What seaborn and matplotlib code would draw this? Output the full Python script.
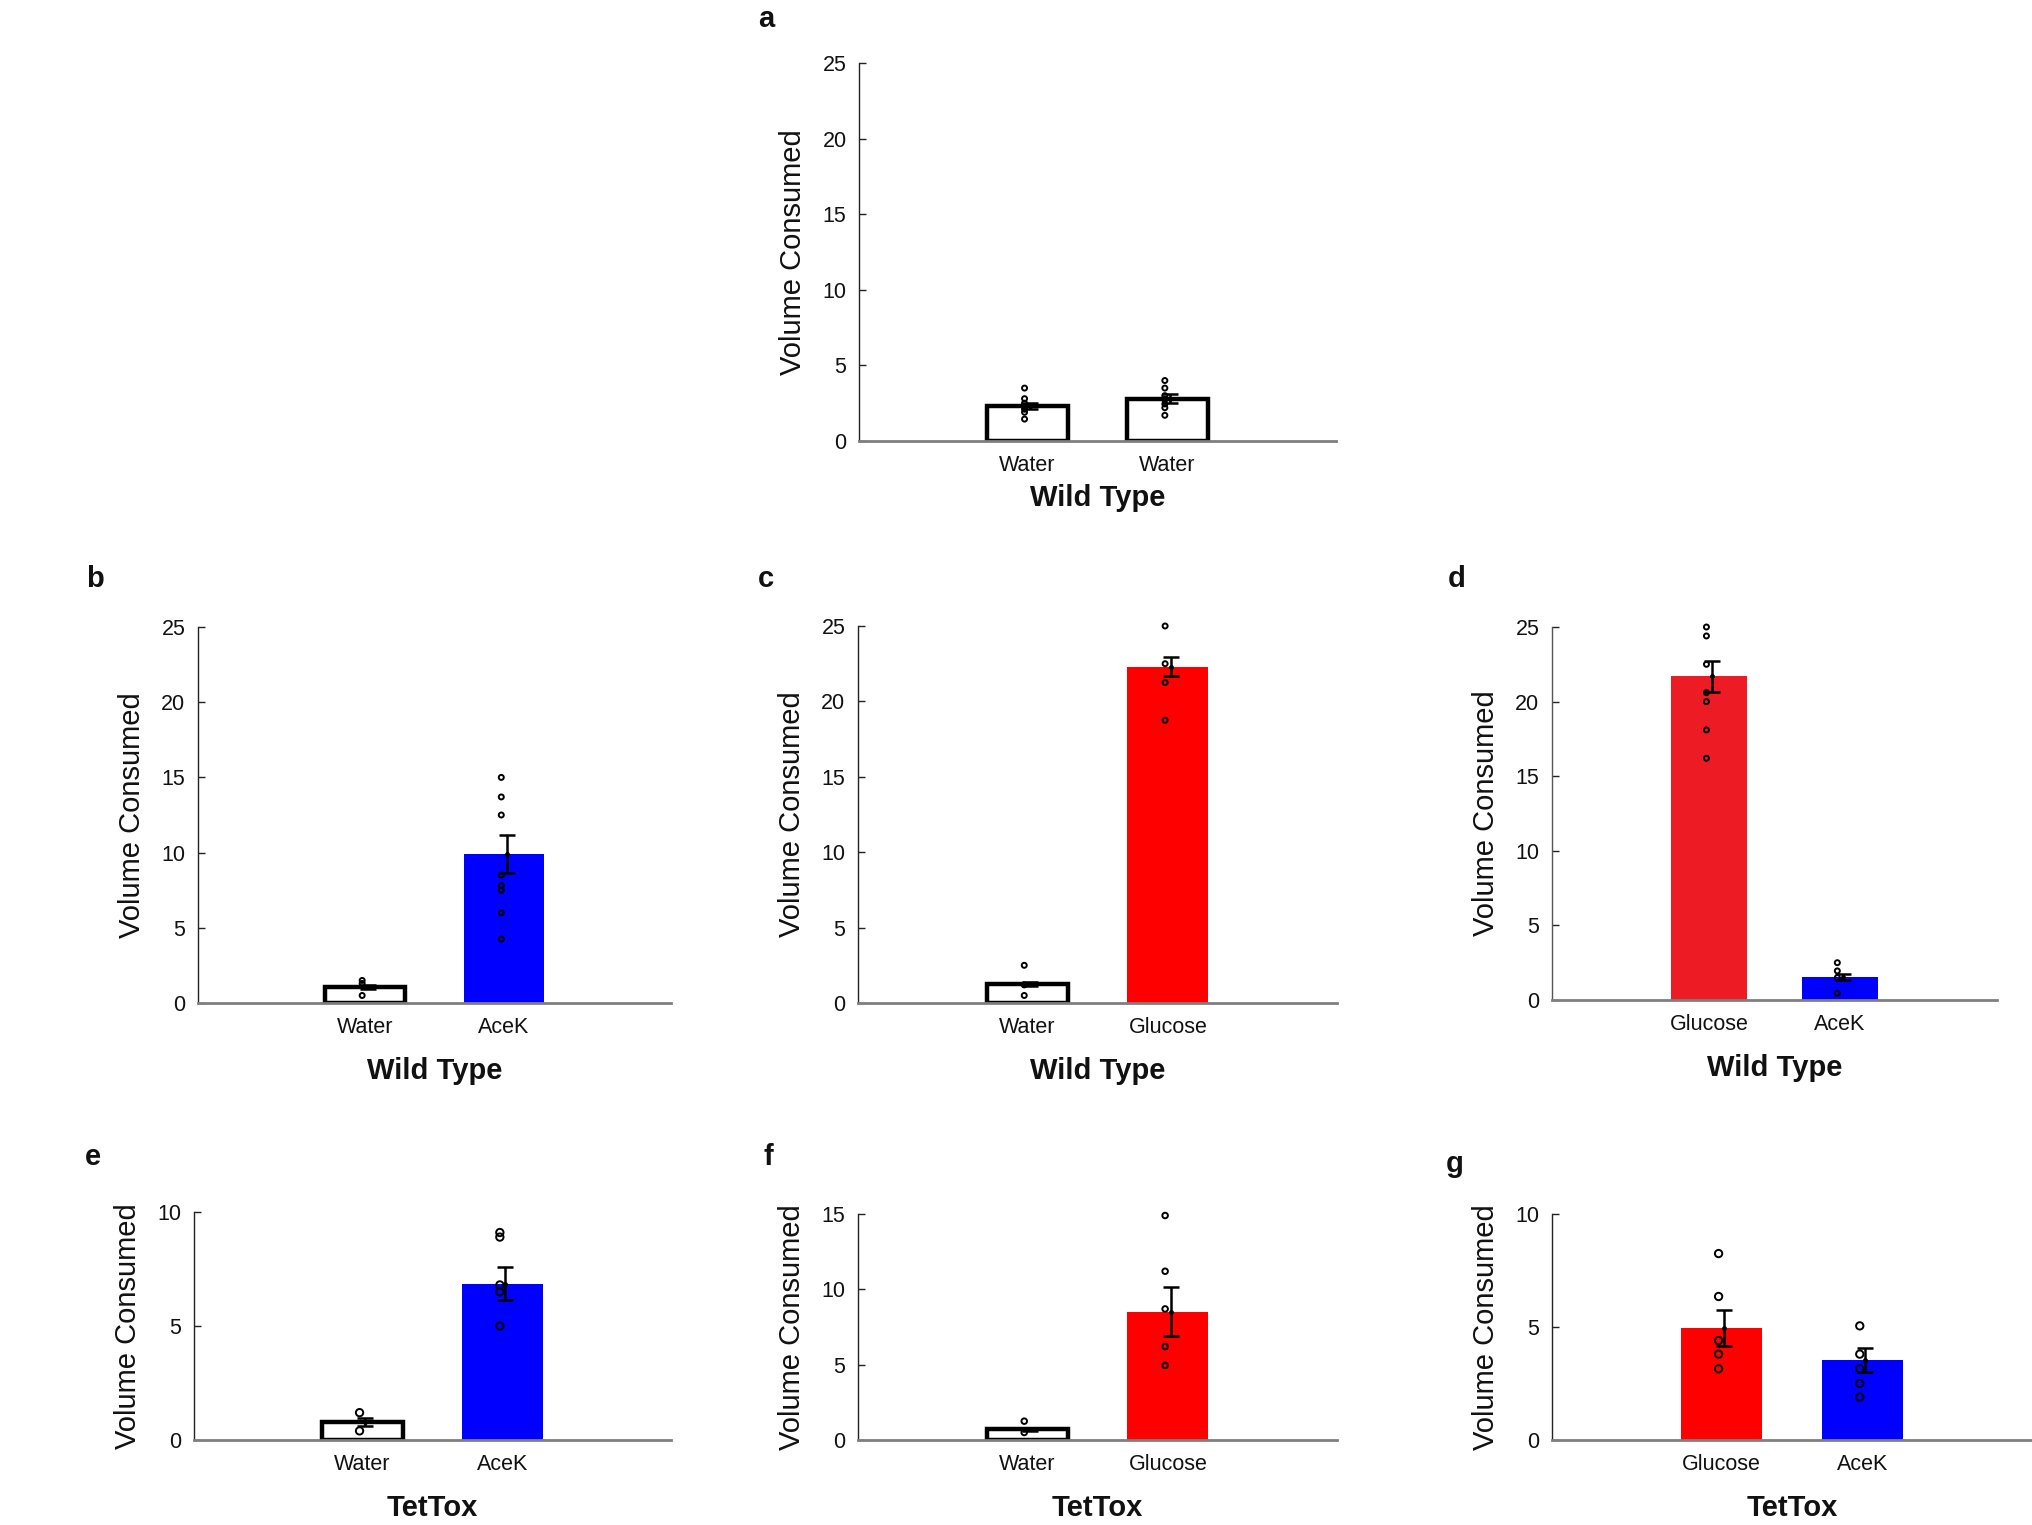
import numpy as np
import pandas as pd
import matplotlib
matplotlib.use("Agg")
import matplotlib.pyplot as plt
import seaborn as sns

# ---------------- data ----------------
a_labels = ["Water", "Water"]
a_means = [2.3, 2.8]
a_sems = [0.2, 0.28]
a_points = [[3.5, 2.8, 2.5, 2.3, 2.1, 1.9, 1.45], [4.0, 3.5, 3.0, 2.75, 2.45, 2.2, 1.7]]

b_labels = ["Water", "AceK"]
b_means = [1.05, 9.9]
b_sems = [0.15, 1.28]
b_points = [[1.5, 1.3, 0.5], [15.0, 13.7, 12.5, 8.5, 7.8, 7.5, 6.0, 4.25]]

c_labels = ["Water", "Glucose"]
c_means = [1.26, 22.3]
c_sems = [0.1, 0.64]
c_points = [[2.5, 1.2, 0.5], [25.0, 22.5, 21.25, 18.75]]

d_labels = ["Glucose", "AceK"]
d_means = [21.7, 1.55]
d_sems = [1.05, 0.2]
d_points = [[25.0, 24.4, 22.5, 20.6, 20.0, 18.1, 16.2], [2.5, 1.95, 1.5, 0.45]]

e_labels = ["Water", "AceK"]
e_means = [0.8, 6.85]
e_sems = [0.17, 0.73]
e_points = [[1.2, 0.4], [9.1, 8.9, 6.8, 6.5, 5.0]]

f_labels = ["Water", "Glucose"]
f_means = [0.7, 8.5]
f_sems = [0.1, 1.63]
f_points = [[1.25, 0.5], [14.9, 11.2, 8.7, 6.2, 4.95]]

g_labels = ["Glucose", "AceK"]
g_means = [4.95, 3.55]
g_sems = [0.8, 0.53]
g_points = [[8.25, 6.35, 4.4, 3.8, 3.15], [5.05, 3.8, 3.15, 2.5, 1.9]]

group_names = ["Wild Type", "Wild Type", "Wild Type", "Wild Type", "TetTox", "TetTox", "TetTox"]
y_ticks = [[0, 5, 10, 15, 20, 25]] * 4 + [[0, 5, 10], [0, 5, 10, 15], [0, 5, 10]]

WATER = "#FFFFFF"
BLUE = "#0000FF"
RED = "#FF0000"
RED_D = "#ED1C24"

# ---------------- style ----------------
sns.set_style("white")
plt.rcParams["font.family"] = ["Liberation Sans", "DejaVu Sans"]

W, H = 2032, 1525
fig = plt.figure(figsize=(W / 100, H / 100), dpi=100)

def rect(l, r, t, b):
    return [l / W, 1 - b / H, (r - l) / W, (b - t) / H]

panels = [
    ("a", rect(859, 1336, 63, 441), a_labels, a_means, a_sems, a_points, [WATER, WATER], (766, 19), 13),
    ("b", rect(198, 671, 627, 1003), b_labels, b_means, b_sems, b_points, [WATER, BLUE], (95, 579), 13),
    ("c", rect(858, 1337, 626, 1003), c_labels, c_means, c_sems, c_points, [WATER, RED], (766, 579), 13),
    ("d", rect(1552, 1997, 627, 1000), d_labels, d_means, d_sems, d_points, [RED_D, BLUE], (1457, 579), 13),
    ("e", rect(194, 671, 1212, 1440), e_labels, e_means, e_sems, e_points, [WATER, BLUE], (93, 1157), 28),
    ("f", rect(858, 1337, 1214, 1440), f_labels, f_means, f_sems, f_points, [WATER, RED], (768, 1157), 16),
    ("g", rect(1552, 2032, 1214, 1440), g_labels, g_means, g_sems, g_points, [RED, BLUE], (1455, 1164), 28),
]

for idx, (letter, r, labels, means, sems, points, colors, lpos, msize) in enumerate(panels):
    ax = fig.add_axes(r)
    keys = [f"{lab}_{i}" for i, lab in enumerate(labels)]
    df = pd.DataFrame({"key": keys, "mean": means})
    sns.barplot(data=df, x="key", y="mean", hue="key", palette=dict(zip(keys, colors)),
                width=0.575, legend=False, ax=ax, saturation=1, errorbar=None)
    for patch, col in zip(ax.patches, colors):
        if col == WATER:
            patch.set_facecolor("white")
            patch.set_edgecolor("black")
            patch.set_linewidth(3.2)
        else:
            patch.set_edgecolor("none")
            patch.set_linewidth(0)
    # points
    for i, pts in enumerate(points):
        ax.scatter(np.full(len(pts), i - 0.02), pts, s=msize, facecolors="none",
                   edgecolors="black", linewidths=1.4, zorder=4, clip_on=False)
    # error bars (SEM)
    ax.errorbar(np.arange(len(means)) + 0.02, means, yerr=sems, fmt="o", color="black",
                markersize=2.5, elinewidth=1.8, capsize=6, capthick=1.8, zorder=5)

    ax.set_xlim(-1.2, len(means) + 0.2)
    ticks = y_ticks[idx]
    ax.set_ylim(0, ticks[-1])
    ax.set_yticks(ticks)
    ax.set_xticks(range(len(labels)))
    ax.set_xticklabels(labels)
    ax.tick_params(axis="y", direction="in", length=5, width=1, color="#222222",
                   labelsize=15.5, pad=9, labelcolor="#111111", left=True)
    ax.tick_params(axis="x", length=0, labelsize=15.5, pad=10, labelcolor="#111111")
    for s in ["top", "right"]:
        ax.spines[s].set_visible(False)
    ax.spines["left"].set_color("#555555" if letter == "d" else "#222222")
    ax.spines["left"].set_linewidth(1.0)
    ax.spines["bottom"].set_color("#7f7f7f")
    ax.spines["bottom"].set_linewidth(2.0)
    ax.set_ylabel("Volume Consumed", fontsize=21, labelpad=11, color="#111111")
    ax.set_xlabel(group_names[idx], fontsize=21, fontweight="bold",
                  labelpad=6 if letter == "a" else 14, color="#111111")
    ax.set_facecolor("white")
    fig.text(lpos[0] / W, 1 - lpos[1] / H, letter, fontsize=21, fontweight="bold",
             ha="center", va="center", color="#111111")

fig.savefig("out.png", dpi=100, facecolor="white")
